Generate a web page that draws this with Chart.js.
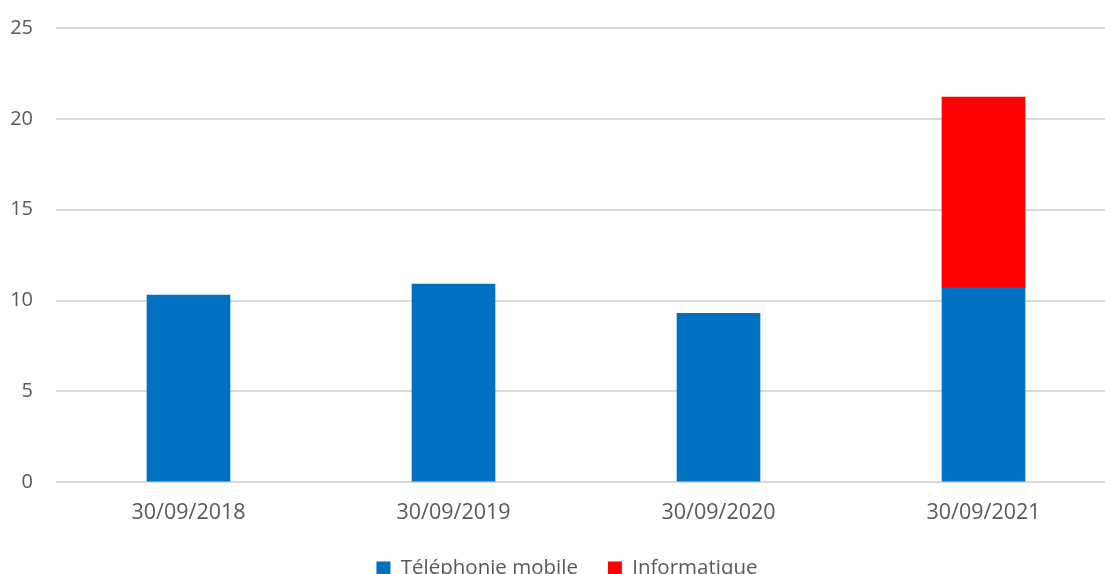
<!DOCTYPE html>
<html>
<head>
<meta charset="utf-8">
<script src="https://cdn.jsdelivr.net/npm/chart.js@4"></script>
<style>
html,body{margin:0;padding:0;background:#fff;overflow:hidden;width:1105px;height:574px;}
#wrap{width:1116px;height:581px;margin-top:-7px;}
</style>
</head>
<body>
<div id="wrap"><canvas id="c" width="1116" height="581"></canvas></div>
<script>
const categories = ["30/09/2018", "30/09/2019", "30/09/2020", "30/09/2021"];
const mobile = [10.3, 10.9, 9.3, 10.7];
const informatique = [null, null, null, 10.5];
const seriesNames = ["Téléphonie mobile", "Informatique"];
const yTicks = [0, 5, 10, 15, 20, 25];

const FONT = "'Open Sans', sans-serif";
const TXT = "#595959";

const legendShift = {
  id: 'legendShift',
  afterLayout(chart) { if (chart.legend) { chart.legend.left += 18; } }
};

new Chart(document.getElementById('c'), {
  type: 'bar',
  data: {
    labels: categories,
    datasets: [
      {label: seriesNames[0], data: mobile, backgroundColor: '#0070C0', barThickness: 83},
      {label: seriesNames[1], data: informatique, backgroundColor: '#FF0000', barThickness: 83}
    ]
  },
  plugins: [legendShift],
  options: {
    responsive: false,
    animation: false,
    layout: {padding: {top: 21, left: 0, right: 0, bottom: -14.7}},
    plugins: {
      tooltip: {enabled: false},
      legend: {
        position: 'bottom',
        labels: {
          font: {family: FONT, size: 20.5},
          color: TXT,
          boxWidth: 14,
          boxHeight: 14,
          padding: 30,
          useBorderRadius: false
        }
      }
    },
    scales: {
      x: {
        stacked: true,
        grid: {display: false},
        border: {display: false},
        afterFit: (s) => { s.height = 46; },
        ticks: {font: {family: FONT, size: 21.5}, color: TXT, padding: 10}
      },
      y: {
        stacked: true,
        min: 0, max: 25,
        afterBuildTicks: (s) => { s.ticks = yTicks.map(v => ({value: v})); },
        afterFit: (s) => { s.width = 56; },
        grid: {color: '#d9d9d9', lineWidth: 2, drawTicks: false},
        border: {display: false},
        ticks: {font: {family: FONT, size: 20}, color: TXT, padding: 23}
      }
    }
  }
});
</script>
</body>
</html>
